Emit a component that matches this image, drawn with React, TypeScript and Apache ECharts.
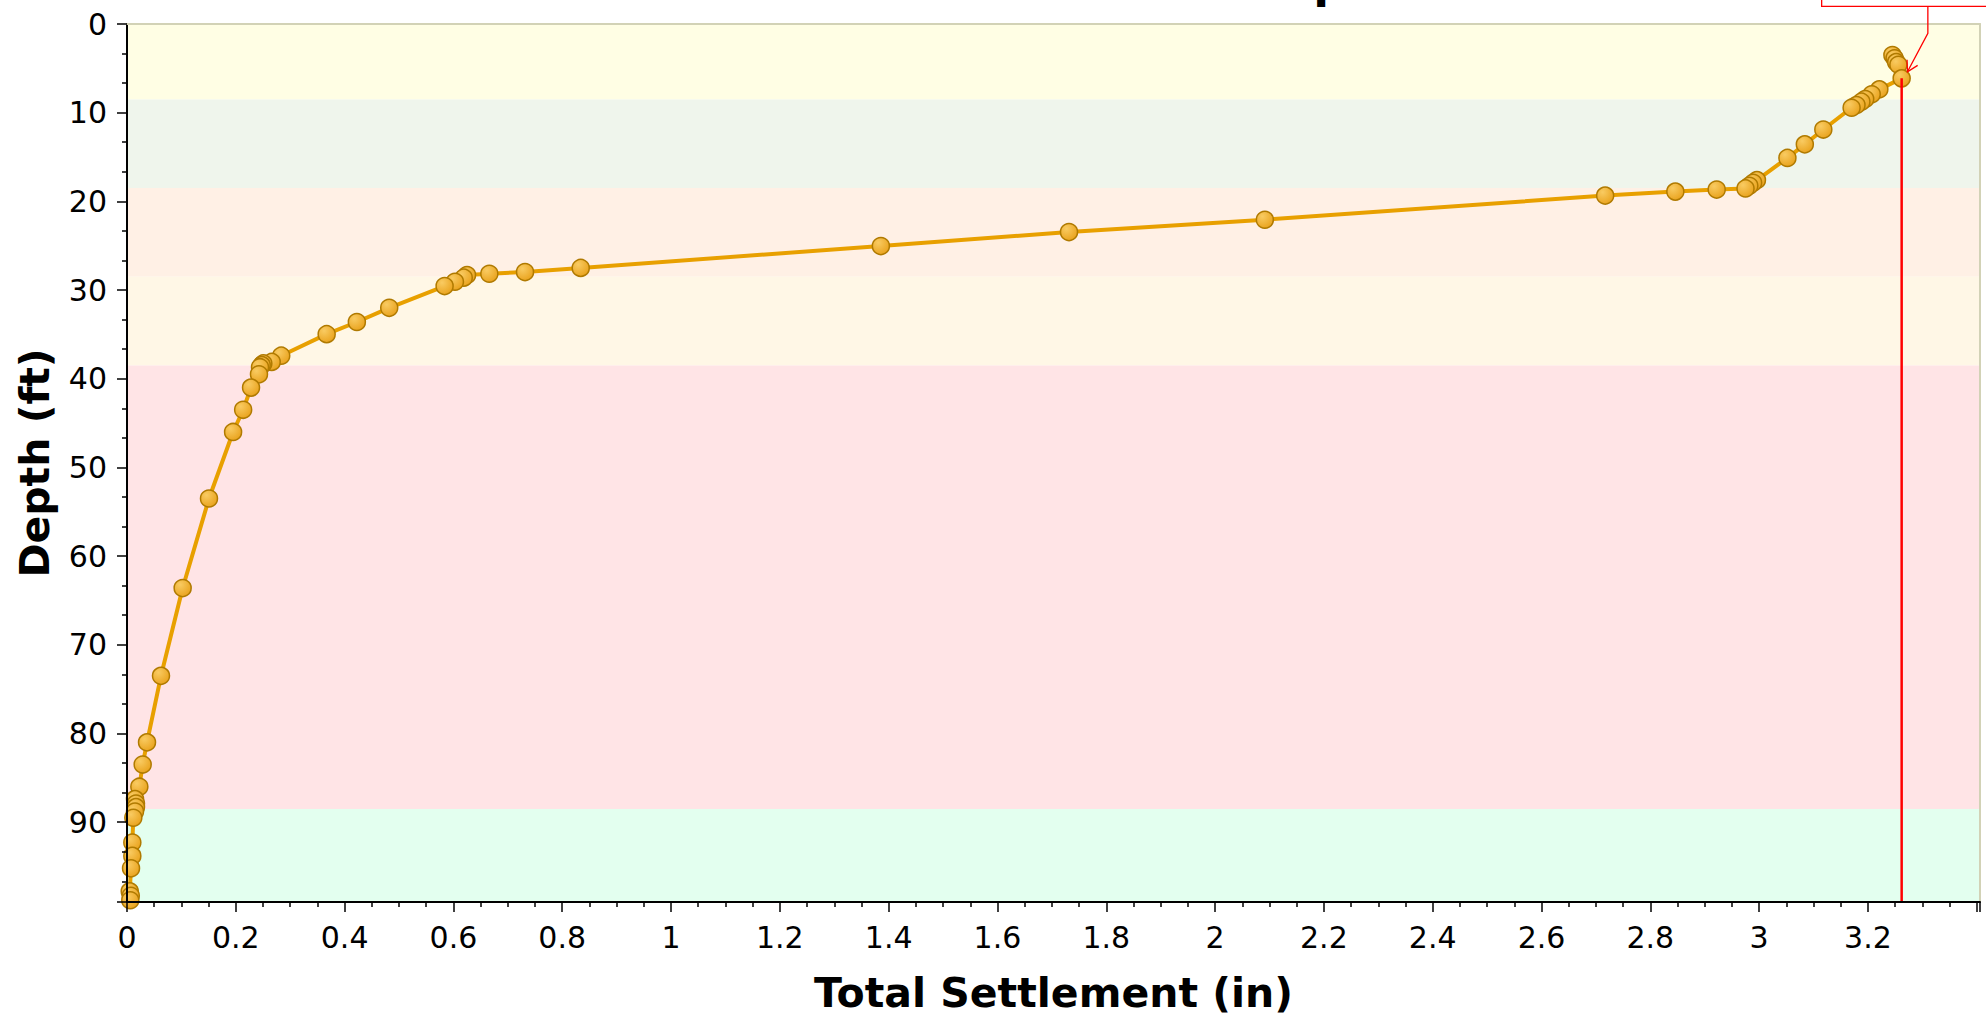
import React, { useEffect, useRef } from "react";
import * as echarts from "echarts";

// ---- Data ----
const depthFt = [
  3.5, 3.87, 4.3, 4.6, 6.13, 7.37, 7.93, 8.46, 8.76, 9.14, 9.44, 11.9, 13.57, 15.1,
  17.6, 17.9, 18.24, 18.54, 18.67, 18.9, 19.35, 22.07, 23.46, 25.04, 27.5, 27.97,
  28.16, 28.3, 28.6, 29.06, 29.55, 32.0, 33.6, 34.97, 37.4, 38.1, 38.27, 38.46, 38.7,
  39.5, 41.0, 43.5, 46.0, 53.5, 63.6, 73.5, 81.0, 83.5, 86.0, 87.4, 87.9, 88.3, 88.8,
  89.5, 92.3, 93.8, 95.2, 97.8, 98.3, 98.8,
];
const settlementIn = [
  3.245, 3.249, 3.252, 3.256, 3.262, 3.221, 3.207, 3.195, 3.188, 3.179, 3.17, 3.118,
  3.084, 3.052, 2.996, 2.989, 2.982, 2.975, 2.922, 2.846, 2.717, 2.0915, 1.7315,
  1.3857, 0.834, 0.7316, 0.666, 0.625, 0.619, 0.6028, 0.5838, 0.482, 0.4225, 0.367,
  0.2835, 0.266, 0.2506, 0.2476, 0.2445, 0.2426, 0.228, 0.2135, 0.195, 0.1507, 0.1023,
  0.0625, 0.0368, 0.0288, 0.0227, 0.0147, 0.0165, 0.0165, 0.0147, 0.0116, 0.0098,
  0.0098, 0.0074, 0.005, 0.007, 0.006,
];

// soil layer bands (depth ranges, ft)
const bandTop = [0, 8.5, 18.5, 28.5, 38.5, 88.5];
const bandBottom = [8.5, 18.5, 28.5, 38.5, 88.5, 99];
const bandColors = ["#FFFEE4", "#EFF5EC", "#FFF0E5", "#FFF7E6", "#FFE4E6", "#E3FFEF"];

// axes
const xMin = 0;
const xMax = 3.406;
const xInterval = 0.2;
const yMin = 0;
const yMax = 99;
const yInterval = 10;

const titleText = "Total Settlement vs. Depth";
const xAxisName = "Total Settlement (in)";
const yAxisName = "Depth (ft)";

const FONT = "DejaVu Sans";

export default function App() {
  const ref = useRef<HTMLDivElement>(null);

  useEffect(() => {
    if (!ref.current) return;
    const chart = echarts.init(ref.current, undefined, { renderer: "svg" });

    const points = depthFt.map((d, i) => [settlementIn[i], d]);
    let iMax = 0;
    settlementIn.forEach((v, i) => {
      if (v > settlementIn[iMax]) iMax = i;
    });
    const maxX = settlementIn[iMax];
    const maxDepth = depthFt[iMax];

    const bandAreas = bandTop.map((t, i) => [
      { yAxis: t, itemStyle: { color: bandColors[i] } },
      { yAxis: bandBottom[i] },
    ]);

    const markerFill = new echarts.graphic.RadialGradient(0.35, 0.3, 0.75, [
      { offset: 0, color: "#F9CB62" },
      { offset: 1, color: "#E9A21C" },
    ]);

    const option: any = {
      animation: false,
      backgroundColor: "#ffffff",
      grid: { left: 127, right: 6, top: 24, bottom: 119, containLabel: false },
      xAxis: [
        {
          type: "value",
          min: xMin,
          max: xMax,
          interval: xInterval,
          position: "bottom",
          z: 10,
          name: xAxisName,
          nameLocation: "middle",
          nameGap: 70,
          nameTextStyle: { fontFamily: FONT, fontSize: 41, fontWeight: "bold", color: "#000" },
          axisLine: { show: true, onZero: false, lineStyle: { color: "#000", width: 2 } },
          axisTick: { show: true, length: 10, lineStyle: { color: "#000", width: 1.5 } },
          minorTick: { show: true, splitNumber: 4, length: 5, lineStyle: { color: "#000", width: 1.5 } },
          axisLabel: {
            fontFamily: FONT,
            fontSize: 30,
            color: "#000",
            margin: 20,
            showMaxLabel: false,
            formatter: (v: number) => (v > 3.3 ? "" : String(Math.round(v * 10) / 10)),
          },
          splitLine: { show: false },
        },
        {
          type: "value",
          min: xMin,
          max: xMax,
          position: "top",
          z: 10,
          axisLine: { show: true, onZero: false, lineStyle: { color: "#D2D2B6", width: 2 } },
          axisTick: { show: false },
          axisLabel: { show: false },
          splitLine: { show: false },
        },
      ],
      yAxis: [
        {
          type: "value",
          inverse: true,
          min: yMin,
          max: yMax,
          interval: yInterval,
          position: "left",
          z: 10,
          name: yAxisName,
          nameLocation: "middle",
          nameGap: 72,
          nameTextStyle: { fontFamily: FONT, fontSize: 41, fontWeight: "bold", color: "#000" },
          axisLine: { show: true, onZero: false, lineStyle: { color: "#000", width: 2 } },
          axisTick: { show: true, length: 10, lineStyle: { color: "#000", width: 1.5 } },
          minorTick: { show: true, splitNumber: 3, length: 5, lineStyle: { color: "#000", width: 1.5 } },
          axisLabel: {
            fontFamily: FONT,
            fontSize: 30,
            color: "#000",
            margin: 20,
            showMaxLabel: false,
          },
          splitLine: { show: false },
        },
        {
          type: "value",
          inverse: true,
          min: yMin,
          max: yMax,
          position: "right",
          z: 10,
          axisLine: { show: true, onZero: false, lineStyle: { color: "#D2D2B6", width: 2 } },
          axisTick: { show: false },
          axisLabel: { show: false },
          splitLine: { show: false },
        },
      ],
      series: [
        {
          type: "line",
          name: "bands",
          xAxisIndex: 0,
          yAxisIndex: 0,
          data: [],
          z: 1,
          silent: true,
          markArea: { silent: true, data: bandAreas },
        },
        {
          type: "line",
          name: "Total Settlement",
          xAxisIndex: 0,
          yAxisIndex: 0,
          data: points,
          z: 3,
          symbol: "circle",
          symbolSize: 17,
          showAllSymbol: true,
          lineStyle: { color: "#E8A000", width: 4 },
          itemStyle: { color: markerFill, borderColor: "#B07A00", borderWidth: 1.5 },
        },
        {
          type: "line",
          name: "max",
          xAxisIndex: 0,
          yAxisIndex: 0,
          data: [
            [maxX, maxDepth],
            [maxX, yMax],
          ],
          z: 4,
          symbol: "none",
          lineStyle: { color: "#FF0000", width: 2.5 },
        },
      ],
    };

    chart.setOption(option);

    const [px, py] = chart.convertToPixel({ xAxisIndex: 0, yAxisIndex: 0 }, [maxX, maxDepth]) as number[];
    const [gx0] = chart.convertToPixel({ xAxisIndex: 0, yAxisIndex: 0 }, [xMin, yMin]) as number[];
    const [gx1] = chart.convertToPixel({ xAxisIndex: 0, yAxisIndex: 0 }, [xMax, yMin]) as number[];
    const cx = (gx0 + gx1) / 2;

    chart.setOption({
      graphic: [
        {
          type: "text",
          x: cx,
          y: -42.5,
          z: 20,
          style: {
            text: titleText,
            font: `bold 46px "${FONT}"`,
            fill: "#000",
            align: "center",
            verticalAlign: "top",
            textAlign: "center",
            textVerticalAlign: "top",
          },
        },
        {
          type: "rect",
          z: 20,
          shape: { x: px - 80, y: py - 130, width: 300, height: 58 },
          style: { fill: "#ffffff", stroke: "#FF0000", lineWidth: 1.3 },
        },
        {
          type: "polyline",
          z: 20,
          shape: {
            points: [
              [px + 26.2, py - 72],
              [px + 26.2, py - 45],
              [px + 5.8, py - 6.6],
            ],
          },
          style: { fill: "none", stroke: "#FF0000", lineWidth: 1.3 },
        },
        {
          type: "polyline",
          z: 20,
          shape: {
            points: [
              [px + 16, py - 13],
              [px + 5.8, py - 6.6],
              [px + 5.4, py - 18.6],
            ],
          },
          style: { fill: "none", stroke: "#FF0000", lineWidth: 1.3 },
        },
      ],
    });

    return () => chart.dispose();
  }, []);

  return (
    <div
      ref={ref}
      style={{ position: "absolute", left: 0, top: 0, width: 1986, height: 1021 }}
    />
  );
}
